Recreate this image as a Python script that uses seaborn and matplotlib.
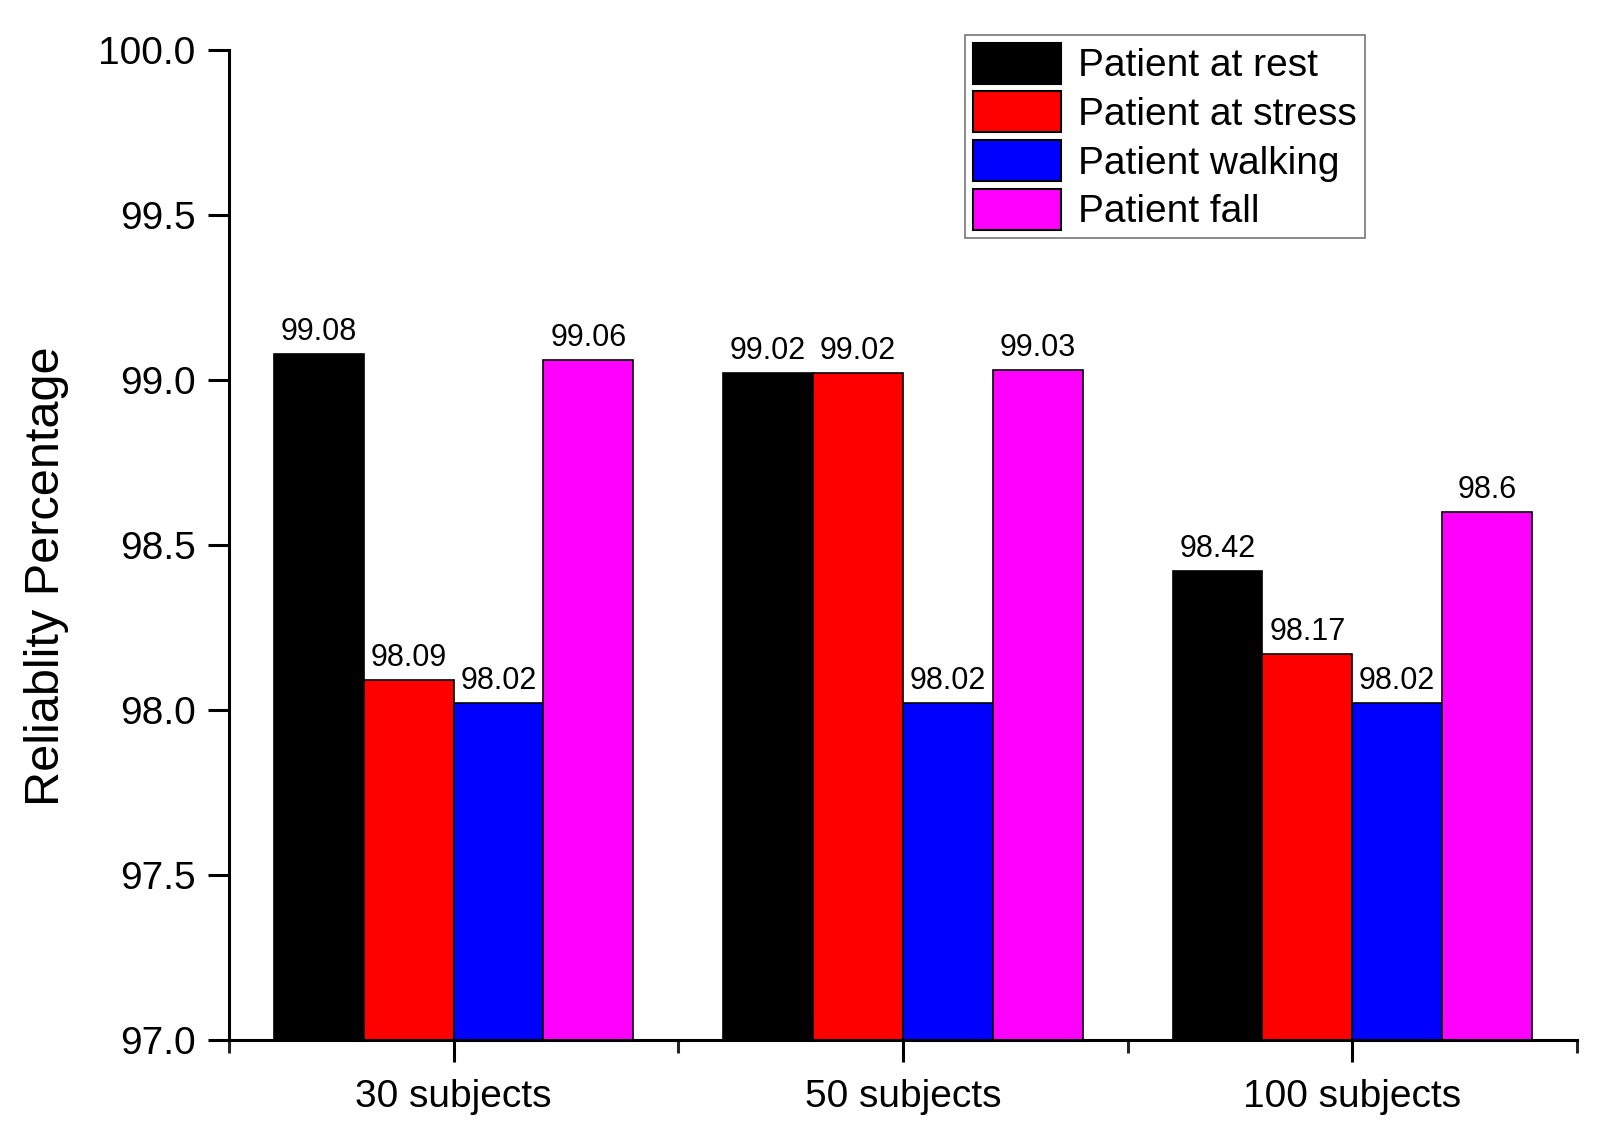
import pandas as pd
import numpy as np
import seaborn as sns
import matplotlib.pyplot as plt
from matplotlib.ticker import FixedLocator, FormatStrFormatter

# Data
groups = ['30 subjects', '50 subjects', '100 subjects']
states = ['Patient at rest', 'Patient at stress', 'Patient walking', 'Patient fall']
rest = [99.08, 99.02, 98.42]
stress = [98.09, 99.02, 98.17]
walking = [98.02, 98.02, 98.02]
fall = [99.06, 99.03, 98.6]
colors = ['#000000', '#ff0000', '#0000ff', '#ff00ff']
y_ticks = [97.0, 97.5, 98.0, 98.5, 99.0, 99.5, 100.0]

# Long-form table for seaborn
rows = []
for state, vals in zip(states, [rest, stress, walking, fall]):
    for g, v in zip(groups, vals):
        rows.append({'group': g, 'state': state, 'value': v})
df = pd.DataFrame(rows)

sns.set_theme(style='white')
plt.rcParams['font.family'] = ['Liberation Sans', 'DejaVu Sans']

fig = plt.figure(figsize=(16.01, 11.35), dpi=100)
ax = fig.add_axes([0.143, 0.0837, 0.842, 0.8723])

sns.barplot(data=df, x='group', y='value', hue='state', order=groups,
            hue_order=states, palette=colors, saturation=1, width=0.8,
            edgecolor='black', linewidth=1.2, ax=ax)

# value labels on top of bars
for cont in ax.containers:
    ax.bar_label(cont, fmt='%g', padding=5, fontsize=22, color='black')

# -----------------------------
# Axes styling
# -----------------------------
ax.set_xlim(-0.5, 2.5)
ax.set_ylim(97, 100)
ax.set_yticks(y_ticks)
ax.yaxis.set_major_formatter(FormatStrFormatter('%.1f'))
ax.xaxis.set_minor_locator(FixedLocator([-0.5, 0.5, 1.5, 2.5]))

for side in ['top', 'right']:
    ax.spines[side].set_visible(False)
for side in ['left', 'bottom']:
    ax.spines[side].set_linewidth(2.2)
    ax.spines[side].set_color('black')

ax.tick_params(axis='x', which='major', direction='out', length=16, width=2.2,
               labelsize=28, pad=12, colors='black', bottom=True)
ax.tick_params(axis='x', which='minor', direction='out', length=9, width=2.2,
               bottom=True)
ax.tick_params(axis='y', which='major', direction='out', length=15, width=2.2,
               labelsize=28, pad=9, colors='black', left=True)

ax.set_xlabel('')
ax.set_ylabel('Reliablity Percentage', fontsize=35, color='black')
ax.yaxis.set_label_coords(-0.119, 0.468)

# Legend
handles, labels = ax.get_legend_handles_labels()
leg = ax.legend(handles, labels, loc='upper right', bbox_to_anchor=(0.8427, 1.0152),
                borderaxespad=0, fontsize=28, frameon=True, fancybox=False,
                handlelength=2.26, handleheight=1.25, handletextpad=0.45,
                labelspacing=0.18, borderpad=0.2, labelcolor='black')
leg.get_frame().set_edgecolor('#555555')
leg.get_frame().set_linewidth(1.2)
for h in leg.legend_handles:
    h.set_edgecolor('black')
    h.set_linewidth(1.5)

fig.savefig('out.png', dpi=100)
